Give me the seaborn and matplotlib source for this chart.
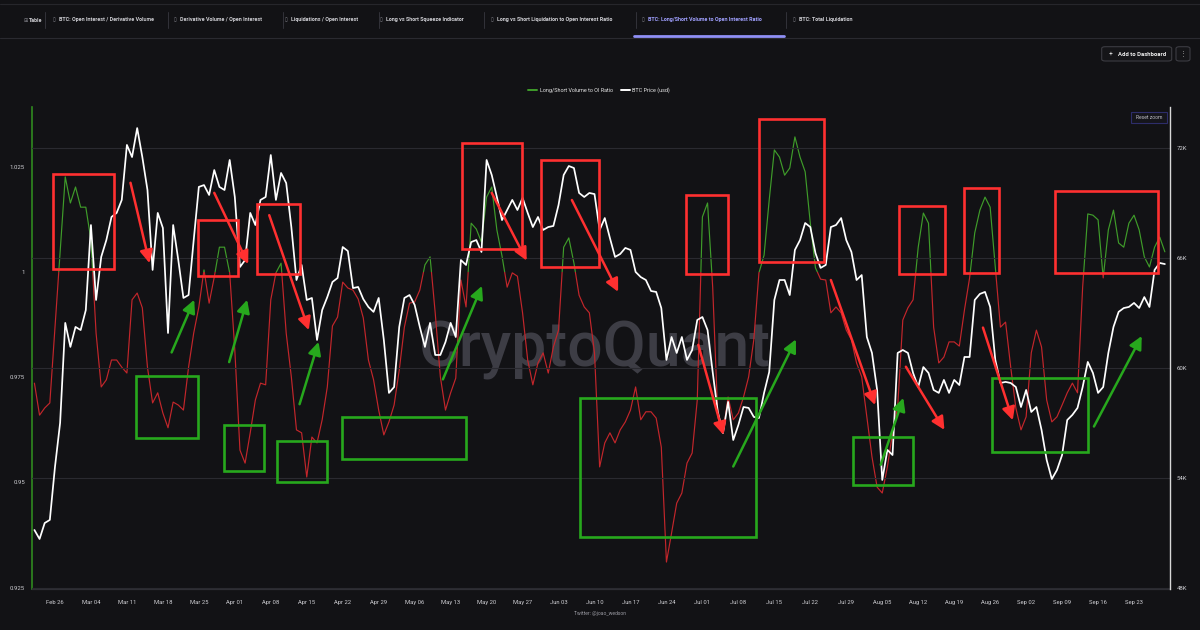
import matplotlib
matplotlib.use('Agg')

import pandas as pd
import matplotlib.pyplot as plt
import matplotlib.dates as mdates
import matplotlib.transforms as mtransforms
from matplotlib.lines import Line2D
from matplotlib.patches import Rectangle, FancyBboxPatch
from matplotlib.ticker import FuncFormatter
import seaborn as sns

# daily series, first value is Feb 22 2024
start_date = '2024-02-22'

ratio = [
	0.9736, 0.9660, 0.9677, 0.9689, 0.9867, 1.0048, 1.0226, 1.0164, 1.0202, 1.0154,
	1.0154, 1.0076, 0.9855, 0.9727, 0.9744, 0.9791, 0.9791, 0.9774, 0.9760, 0.9934,
	0.9950, 0.9915, 0.9774, 0.9689, 0.9713, 0.9665, 0.9630, 0.9691, 0.9684, 0.9672,
	0.9774, 0.9855, 0.9917, 1.0005, 0.9926, 0.9988, 1.0059, 1.0059, 0.9998, 0.9815,
	0.9577, 0.9546, 0.9618, 0.9696, 0.9736, 0.9732, 0.9934, 0.9998, 1.0021, 0.9855,
	0.9751, 0.9625, 0.9618, 0.9513, 0.9608, 0.9594, 0.9649, 0.9727, 0.9872, 0.9893,
	0.9976, 0.9962, 0.9957, 0.9936, 0.9891, 0.9791, 0.9744, 0.9672, 0.9613, 0.9644,
	0.9684, 0.9767, 0.9869, 0.9926, 0.9929, 0.9957, 1.0017, 1.0036, 0.9903, 0.9751,
	0.9672, 0.9713, 0.9748, 0.9981, 0.9917, 1.0116, 1.0102, 1.0071, 1.0178, 1.0202,
	1.0100, 1.0038, 0.9964, 0.9998, 0.9990, 0.9903, 0.9791, 0.9732, 0.9784, 0.9808,
	0.9760, 0.9822, 0.9862, 1.0059, 1.0081, 1.0021, 0.9945, 0.9917, 0.9903, 0.9808,
	0.9537, 0.9594, 0.9618, 0.9594, 0.9625, 0.9644, 0.9672, 0.9727, 0.9649, 0.9668,
	0.9668, 0.9653, 0.9584, 0.9311, 0.9380, 0.9451, 0.9475, 0.9546, 0.9570, 0.9696,
	1.0131, 1.0164, 0.9964, 0.9656, 0.9618, 0.9703, 0.9649, 0.9665, 0.9703, 0.9751,
	0.9839, 0.9998, 1.0040, 1.0171, 1.0290, 1.0273, 1.0230, 1.0247, 1.0321, 1.0273,
	1.0238, 1.0116, 1.0010, 0.9983, 0.9981, 0.9903, 0.9917, 0.9903, 0.9862, 0.9839,
	0.9784, 0.9751, 0.9656, 0.9561, 0.9489, 0.9475, 0.9537, 0.9618, 0.9679, 0.9886,
	0.9915, 0.9934, 1.0059, 1.0140, 1.0116, 0.9869, 0.9784, 0.9798, 0.9834, 0.9834,
	0.9824, 0.9910, 0.9986, 1.0093, 1.0147, 1.0178, 1.0154, 1.0012, 0.9869, 0.9881,
	0.9774, 0.9677, 0.9625, 0.9656, 0.9808, 0.9862, 0.9822, 0.9696, 0.9644, 0.9656,
	0.9684, 0.9713, 0.9736, 0.9713, 0.9964, 1.0138, 1.0135, 1.0124, 0.9986, 1.0100,
	1.0147, 1.0069, 1.0059, 1.0116, 1.0135, 1.0100, 1.0036, 1.0012, 1.0059, 1.0083,
	1.0048,
]

# BTC price in thousands of USD
btc_price = [
	51.16, 50.67, 51.54, 51.71, 54.60, 57.00, 62.46, 61.15, 62.24, 62.07,
	63.16, 67.80, 63.71, 66.06, 66.98, 68.24, 68.46, 69.17, 72.17, 71.51,
	73.09, 71.51, 69.71, 65.35, 68.46, 67.64, 61.91, 67.80, 65.89, 63.82,
	63.98, 66.98, 69.88, 69.98, 69.44, 70.80, 69.88, 69.71, 71.35, 69.33,
	65.51, 65.89, 68.46, 67.80, 69.17, 69.33, 71.62, 69.17, 70.64, 70.09,
	67.69, 64.80, 65.62, 63.71, 63.82, 61.53, 63.16, 63.87, 64.69, 64.91,
	66.60, 66.38, 64.36, 64.42, 63.76, 63.33, 63.06, 63.82, 61.53, 58.64,
	58.96, 62.24, 63.82, 63.98, 63.44, 62.24, 61.15, 62.46, 60.71, 60.71,
	61.42, 62.46, 61.69, 65.89, 65.62, 66.87, 66.98, 66.33, 71.35, 70.53,
	69.33, 68.07, 68.62, 69.17, 68.62, 69.28, 68.46, 67.69, 68.24, 67.53,
	67.69, 67.75, 68.89, 70.53, 71.02, 70.91, 69.55, 69.33, 69.55, 69.49,
	67.53, 68.18, 67.09, 66.06, 66.22, 66.55, 66.44, 65.24, 64.96, 64.80,
	64.20, 64.15, 63.27, 60.44, 61.69, 60.82, 61.69, 60.44, 60.98, 62.62,
	62.78, 62.07, 59.78, 57.60, 56.45, 58.15, 56.07, 56.89, 57.87, 57.82,
	57.33, 57.27, 58.64, 59.78, 63.71, 64.80, 64.80, 63.98, 66.44, 66.98,
	67.91, 67.69, 66.27, 65.46, 65.62, 67.69, 67.80, 68.18, 66.98, 66.33,
	64.80, 65.07, 61.69, 60.82, 58.80, 53.89, 55.53, 55.25, 60.82, 60.98,
	60.82, 59.73, 58.96, 60.05, 59.73, 58.80, 58.64, 59.35, 58.64, 59.35,
	59.07, 60.60, 60.60, 63.71, 64.04, 64.15, 63.33, 60.44, 59.18, 59.24,
	59.18, 58.96, 57.87, 58.80, 57.60, 57.87, 56.62, 54.98, 53.94, 54.43,
	55.25, 57.16, 57.44, 57.82, 58.96, 60.33, 59.73, 58.64, 58.96, 60.82,
	62.24, 63.06, 63.27, 63.33, 63.55, 63.27, 63.87, 63.33, 65.35, 65.73,
	65.67,
]

ratio_ticks = [0.925, 0.95, 0.975, 1, 1.025]
price_ticks = [48, 54, 60, 66, 72]
week_ticks = pd.date_range('2024-02-26', '2024-09-23', freq='7D')

# annotations drawn over the chart: (day from, day to, ratio low, ratio high)
red_boxes = [
	(3.6, 15.5, 1.0007, 1.0233), (31.8, 39.7, 0.9991, 1.0124), (43.3, 51.6, 0.9995, 1.0162),
	(83.2, 94.9, 1.0055, 1.0306), (98.6, 109.9, 1.0012, 1.0266), (126.8, 135.0, 0.9995, 1.0183),
	(141.0, 153.7, 1.0024, 1.0363), (168.3, 177.2, 0.9995, 1.0157), (180.9, 187.7, 0.9998, 1.0200),
	(198.6, 218.7, 0.9998, 1.0192),
]
green_boxes = [
	(19.8, 31.9, 0.9606, 0.9753), (36.9, 44.7, 0.9528, 0.9637), (47.2, 56.9, 0.9502, 0.9599),
	(59.9, 84.0, 0.9555, 0.9656), (106.1, 140.5, 0.9371, 0.9700), (159.3, 170.9, 0.9494, 0.9609),
	(186.3, 205.1, 0.9573, 0.9748),
]
# arrows: (day from, ratio from, day to, ratio to)
red_arrows = [
	(18.7, 1.0212, 22.4, 1.0021), (35.0, 1.0188, 41.6, 1.0019), (45.7, 1.0135, 53.4, 0.9862),
	(89.0, 1.0188, 95.8, 1.0027), (104.6, 1.0171, 113.6, 0.9953), (129.2, 0.9827, 134.1, 0.9613),
	(155.0, 0.9981, 163.6, 0.9684), (169.6, 0.9775, 177.1, 0.9625), (184.6, 0.9868, 190.4, 0.9648),
]
green_arrows = [
	(26.7, 0.9809, 31.1, 0.9934), (37.9, 0.9786, 41.4, 0.9934), (51.6, 0.9686, 55.3, 0.9834),
	(79.5, 0.9745, 87.1, 0.9967), (136.0, 0.9538, 148.2, 0.9840), (164.7, 0.9542, 169.1, 0.9701),
	(206.2, 0.9633, 215.5, 0.9848),
]

tab_labels = [
	'Table', 'BTC: Open Interest / Derivative Volume', 'Derivative Volume / Open Interest',
	'Liquidations / Open Interest', 'Long vs Short Squeeze Indicator',
	'Long vs Short Liquidation to Open Interest Ratio',
	'BTC: Long/Short Volume to Open Interest Ratio', 'BTC: Total Liquidation',
]
tab_x = [29, 59, 180, 291, 386, 497, 648, 799]
tab_sep_x = [45, 168, 283, 379, 484, 636, 786]
active_tab = 6

BG = '#121215'
LINE_GREEN = '#3f9c2a'
LINE_RED = '#c3262b'
MARK_RED = '#ff3030'
MARK_GREEN = '#27a81d'
TEXT = '#cfcfd4'

W, H = 1200, 630


def fx(x):
	return x / W


def fy(y):
	return 1 - y / H


def day(d):
	return mdates.date2num(pd.Timestamp(start_date) + pd.Timedelta(days=d))


def draw_header(fig):
	fig.add_artist(Line2D([0, 1], [fy(4), fy(4)], color='#26262b', lw=0.8))
	fig.add_artist(Line2D([0, 1], [fy(38), fy(38)], color='#2a2a30', lw=0.8))
	for i, (label, x) in enumerate(zip(tab_labels, tab_x)):
		colour = '#a0a0ff' if i == active_tab else TEXT
		icon = '⊞' if i == 0 else '▯'
		fig.text(fx(x - 6), fy(20), icon, color='#8a8a92', fontsize=3.6, va='center', ha='left')
		fig.text(fx(x), fy(20), label, color=colour, fontsize=3.9, va='center', ha='left',
			fontweight='bold')
	for x in tab_sep_x:
		fig.add_artist(Line2D([fx(x), fx(x)], [fy(12), fy(28)], color='#33333a', lw=0.7))
	fig.add_artist(Line2D([fx(634), fx(784)], [fy(36), fy(36)], color='#8f8ff5', lw=2))

	# buttons top right
	for x0, x1 in [(1101.7, 1171.7), (1176, 1190)]:
		fig.add_artist(FancyBboxPatch((fx(x0), fy(61)), fx(x1 - x0), 14.3 / H,
			boxstyle='round,pad=0,rounding_size=0.003', transform=fig.transFigure,
			fc='#151518', ec='#3c3c42', lw=0.8))
	fig.text(fx(1111), fy(54), '+', color='#dddddd', fontsize=5, va='center', ha='center')
	fig.text(fx(1142), fy(54), 'Add to Dashboard', color='#f0f0f0', fontsize=4.2,
		va='center', ha='center', fontweight='bold')
	fig.text(fx(1183), fy(54), '⋮', color='#aaaaaa', fontsize=5, va='center', ha='center')

	fig.add_artist(Rectangle((fx(1130.7), fy(123.3)), fx(36), 11.6 / H,
		transform=fig.transFigure, fc='#15151b', ec='#2d2d6a', lw=0.8))
	fig.text(fx(1148.7), fy(117.5), 'Reset zoom', color='#bdbdc4', fontsize=3.6,
		va='center', ha='center')


def draw_marks(ax, ax2):
	for boxes, colour in [(red_boxes, MARK_RED), (green_boxes, MARK_GREEN)]:
		for d0, d1, lo, hi in boxes:
			ax2.add_patch(Rectangle((day(d0), lo), day(d1) - day(d0), hi - lo,
				transform=ax.transData, fill=False, ec=colour, lw=1.9, zorder=6))
	for arrows, colour in [(red_arrows, MARK_RED), (green_arrows, MARK_GREEN)]:
		for d0, r0, d1, r1 in arrows:
			ax2.annotate('', xy=(day(d1), r1), xytext=(day(d0), r0),
				xycoords=ax.transData, textcoords=ax.transData,
				arrowprops=dict(arrowstyle='-|>,head_length=0.7,head_width=0.35',
					color=colour, lw=1.8, mutation_scale=11, shrinkA=0, shrinkB=0),
				zorder=7)


def main():
	sns.set_theme(style='dark')
	plt.rcParams['font.family'] = ['Roboto', 'DejaVu Sans']

	dates = pd.date_range(start_date, periods=len(ratio), freq='D')
	df = pd.DataFrame({'date': dates, 'ratio': ratio, 'price': btc_price})

	fig = plt.figure(figsize=(W / 100, H / 100), dpi=100, facecolor=BG)
	ax = fig.add_axes([fx(32), fy(589), fx(1170 - 32), (589 - 107) / H])
	ax.set_facecolor(BG)
	ax2 = ax.twinx()

	# ratio line, green above 1 and red below 1
	sns.lineplot(data=df, x='date', y='ratio', ax=ax, color=LINE_GREEN, lw=0.85)
	sns.lineplot(data=df, x='date', y='ratio', ax=ax, color=LINE_RED, lw=0.85)
	split = mtransforms.blended_transform_factory(ax.transAxes, ax.transData)
	ax.lines[0].set_clip_path(Rectangle((0, 1.0), 1, 1, transform=split))
	ax.lines[1].set_clip_path(Rectangle((0, 0.5), 1, 0.5, transform=split))

	sns.lineplot(data=df, x='date', y='price', ax=ax2, color='white', lw=1.25)

	ax.text(fx(595 - 32) * W / (1170 - 32), (589 - 367) / (589 - 107), 'CryptoQuant',
		transform=ax.transAxes, ha='center', va='baseline', fontsize=45,
		color='#3d3d45', fontweight='medium', zorder=0)

	ax.set_xlim(day(-0.47), day(221.0))
	ax.set_ylim(0.9247, 1.0392)
	ax2.set_ylim(47.94, 74.24)

	ax.set_xticks(week_ticks)
	ax.xaxis.set_major_formatter(mdates.DateFormatter('%b %d'))
	ax.set_yticks(ratio_ticks)
	ax.yaxis.set_major_formatter(FuncFormatter(lambda v, p: f'{v:g}'))
	ax2.set_yticks(price_ticks)
	ax2.yaxis.set_major_formatter(FuncFormatter(lambda v, p: f'{v:g}K'))

	ax.tick_params(axis='x', colors='#3a3a40', length=4, width=0.7, pad=4,
		labelsize=4.2, labelcolor=TEXT)
	ax.tick_params(axis='y', length=0, pad=5, labelsize=4.3, labelcolor=TEXT)
	ax2.tick_params(axis='y', length=0, pad=5, labelsize=4.3, labelcolor=TEXT)
	for a in (ax, ax2):
		a.set_xlabel('')
		a.set_ylabel('')
		a.grid(False)
		for s in a.spines.values():
			s.set_visible(False)
	ax2.yaxis.grid(True, color='#2a2a30', lw=0.8)
	ax.spines['left'].set_visible(True)
	ax.spines['left'].set_color('#2f8a1f')
	ax.spines['left'].set_linewidth(1.2)
	ax.spines['bottom'].set_visible(True)
	ax.spines['bottom'].set_color('#2e2e34')
	ax.spines['bottom'].set_linewidth(0.9)
	ax2.spines['right'].set_visible(True)
	ax2.spines['right'].set_color('#d8d8d8')
	ax2.spines['right'].set_linewidth(1.0)

	draw_marks(ax, ax2)

	handles = [Line2D([], [], color=LINE_GREEN, lw=1.4), Line2D([], [], color='white', lw=1.4)]
	fig.legend(handles, ['Long/Short Volume to OI Ratio', 'BTC Price (usd)'],
		loc='center', bbox_to_anchor=(fx(599), fy(90)), ncol=2, frameon=False,
		fontsize=3.9, labelcolor='#e6e6e6', handlelength=1.7, columnspacing=1.5,
		handletextpad=0.4)

	draw_header(fig)
	fig.text(fx(600), fy(613), 'Twitter: @joao_wedson', color='#9a9aa2', fontsize=3.6,
		ha='center', va='center')

	fig.savefig('out.png', dpi=100, facecolor=BG)


if __name__ == '__main__':
	main()
